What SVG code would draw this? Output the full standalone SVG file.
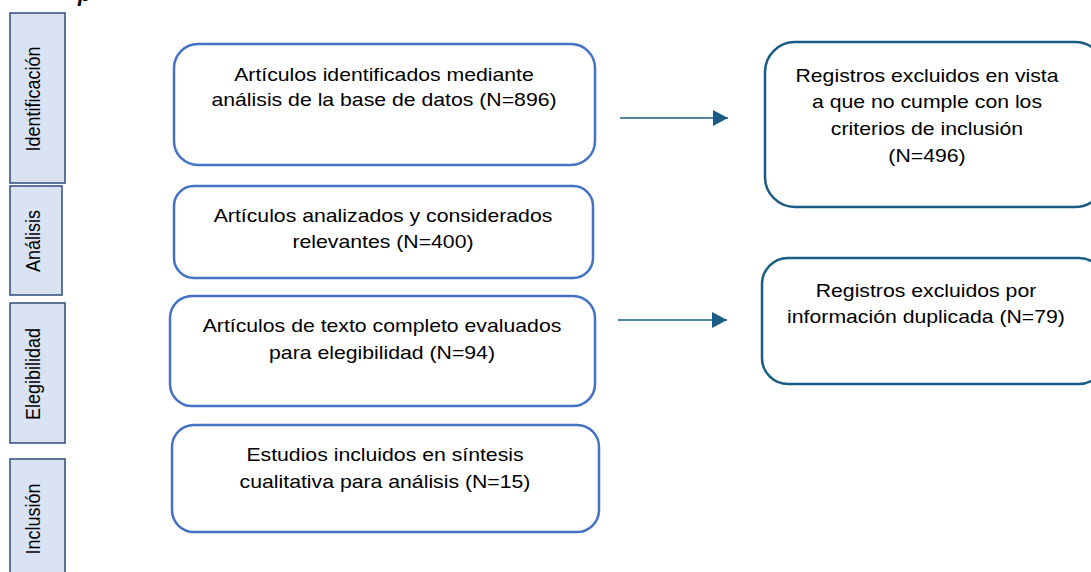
<svg xmlns="http://www.w3.org/2000/svg" width="1091" height="572" viewBox="0 0 1091 572">
<style>
.bg{fill:#ffffff}
.phase rect{fill:#dae3f3;stroke:#2f4b7c;stroke-width:1.5}
.phase text{font-family:"Liberation Sans",Arial,sans-serif;font-size:18px;fill:#000;text-anchor:middle}
.main rect{fill:#ffffff;stroke:#4472c4;stroke-width:2.5}
.excl rect{fill:#ffffff;stroke:#1a5c84;stroke-width:2.5}
.lbl{font-family:"Liberation Sans",Arial,sans-serif;font-size:18px;fill:#000;text-anchor:middle}
.conn line{stroke:#1a5c84;stroke-width:1.5}
.title{font-family:"Liberation Sans",Arial,sans-serif;font-size:22px;font-weight:bold;font-style:italic;fill:#000}
</style>
<defs>
<marker id="ah" markerWidth="15" markerHeight="16" refX="15" refY="8" orient="auto" markerUnits="userSpaceOnUse" viewBox="0 0 15 16">
<path d="M0,0 L15,8 L0,16 Z" fill="#1a5c84"/>
</marker>
</defs>
<rect class="bg" x="0" y="0" width="1091" height="572"/>
<text class="title" x="78" y="1">p</text>

<g id="phase-identificacion" class="phase">
<rect x="10" y="13" width="55" height="170"/>
<text transform="translate(40,99) scale(1.12,1) rotate(-90)" x="0" y="0">Identificación</text>
</g>
<g id="phase-analisis" class="phase">
<rect x="10" y="186" width="52" height="109"/>
<text transform="translate(40,241) scale(1.12,1) rotate(-90)" x="0" y="0">Análisis</text>
</g>
<g id="phase-elegibilidad" class="phase">
<rect x="10" y="303" width="55" height="140"/>
<text transform="translate(40,374) scale(1.12,1) rotate(-90)" x="0" y="0">Elegibilidad</text>
</g>
<g id="phase-inclusion" class="phase">
<rect x="10" y="459" width="55" height="120"/>
<text transform="translate(40,519) scale(1.12,1) rotate(-90)" x="0" y="0">Inclusión</text>
</g>

<g id="box-identificados" class="main">
<rect x="174" y="44" width="421" height="121" rx="24"/>
<text class="lbl" transform="translate(384,0) scale(1.18,1)"><tspan x="0" y="81">Artículos identificados mediante</tspan><tspan x="0" y="106">análisis de la base de datos (N=896)</tspan></text>
</g>
<g id="box-analizados" class="main">
<rect x="174" y="186" width="419" height="92" rx="20"/>
<text class="lbl" transform="translate(383,0) scale(1.18,1)"><tspan x="0" y="222">Artículos analizados y considerados</tspan><tspan x="0" y="248">relevantes (N=400)</tspan></text>
</g>
<g id="box-evaluados" class="main">
<rect x="170" y="296" width="425" height="110" rx="22"/>
<text class="lbl" transform="translate(382,0) scale(1.18,1)"><tspan x="0" y="332">Artículos de texto completo evaluados</tspan><tspan x="0" y="359">para elegibilidad (N=94)</tspan></text>
</g>
<g id="box-incluidos" class="main">
<rect x="172" y="425" width="427" height="107" rx="22"/>
<text class="lbl" transform="translate(385,0) scale(1.18,1)"><tspan x="0" y="461">Estudios incluidos en síntesis</tspan><tspan x="0" y="488">cualitativa para análisis (N=15)</tspan></text>
</g>

<g id="box-excluidos-criterios" class="excl">
<rect x="765" y="42" width="340" height="165" rx="30"/>
<text class="lbl" transform="translate(927,0) scale(1.18,1)"><tspan x="0" y="82">Registros excluidos en vista</tspan><tspan x="0" y="108">a que no cumple con los</tspan><tspan x="0" y="135">criterios de inclusión</tspan><tspan x="0" y="162">(N=496)</tspan></text>
</g>
<g id="box-excluidos-duplicada" class="excl">
<rect x="762" y="258" width="343" height="126" rx="26"/>
<text class="lbl" transform="translate(926,0) scale(1.18,1)"><tspan x="0" y="297">Registros excluidos por</tspan><tspan x="0" y="323">información duplicada (N=79)</tspan></text>
</g>

<g id="connectors" class="conn">
<line x1="620" y1="118" x2="728" y2="118" marker-end="url(#ah)"/>
<line x1="618" y1="320" x2="727" y2="320" marker-end="url(#ah)"/>
</g>
</svg>
